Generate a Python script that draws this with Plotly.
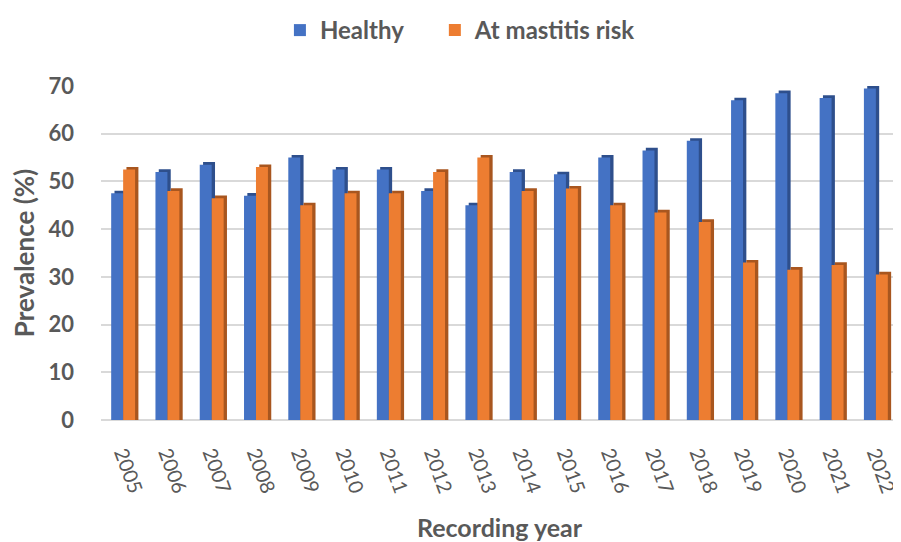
import plotly.graph_objects as go

years = ["2005", "2006", "2007", "2008", "2009", "2010", "2011", "2012", "2013",
         "2014", "2015", "2016", "2017", "2018", "2019", "2020", "2021", "2022"]
healthy = [47.5, 52.0, 53.5, 47.0, 55.0, 52.5, 52.5, 48.0, 45.0,
           52.0, 51.5, 55.0, 56.5, 58.5, 67.0, 68.5, 67.5, 69.5]
at_risk = [52.5, 48.0, 46.5, 53.0, 45.0, 47.5, 47.5, 52.0, 55.0,
           48.0, 48.5, 45.0, 43.5, 41.5, 33.0, 31.5, 32.5, 30.5]

series_names = ["Healthy", "At mastitis risk"]
front_colors = ["#4472C4", "#ED7D31"]
side_colors = ["#2E4F8C", "#A8561F"]
legend_ids = ["legend", "legend2"]

BAR_W = 0.27
offsets = [-0.27, 0.0]
DEPTH_X = 0.075
DEPTH_Y = 0.55

fig = go.Figure()
for name, vals, fc, sc, off, lg in zip(series_names, [healthy, at_risk], front_colors,
                                       side_colors, offsets, legend_ids):
    # side/top face (pseudo 3D)
    fig.add_trace(go.Bar(
        x=years, y=[v + DEPTH_Y for v in vals], base=0,
        offset=off + DEPTH_X, width=BAR_W,
        marker=dict(color=sc, line=dict(width=0)),
        showlegend=False, hoverinfo="skip"))
    # front face
    fig.add_trace(go.Bar(
        x=years, y=vals, name=name, legend=lg,
        offset=off, width=BAR_W,
        marker=dict(color=fc, line=dict(width=0))))

font_fam = "Lato, 'Open Sans', sans-serif"
gray = "#595959"
legend_style = dict(orientation="h", xref="container", xanchor="left",
                    y=1.0, yref="container", yanchor="top",
                    font=dict(size=24, color=gray, weight="bold"),
                    itemwidth=30, bgcolor="rgba(0,0,0,0)")

# the page body has an 8px default margin, so the figure is sized to fit inside the window
fig.update_layout(
    width=893, height=534,
    barmode="overlay",
    plot_bgcolor="white", paper_bgcolor="white",
    margin=dict(l=93, r=3, t=78, b=122, autoexpand=False),
    font=dict(family=font_fam, color=gray),
    legend=dict(x=0.3045, **legend_style),
    legend2=dict(x=0.4780, **legend_style),
    xaxis=dict(type="category", tickangle=70, automargin=False,
               tickfont=dict(size=20, color=gray),
               showgrid=False, showline=False, ticks="", ticklabelstandoff=17,
               title=dict(text="Recording year", font=dict(size=25, color=gray, weight="bold"),
                          standoff=23),
               range=[-0.5, 17.5]),
    yaxis=dict(range=[0, 70], dtick=10, automargin=False,
               tickfont=dict(size=22, color=gray, weight="bold"),
               showgrid=True, gridcolor="#D9D9D9", gridwidth=1.5,
               zeroline=True, zerolinecolor="#D9D9D9", zerolinewidth=1.5,
               showline=False, ticks="", ticklabelstandoff=26,
               title=dict(text="Prevalence (%)", font=dict(size=26, color=gray, weight="bold"),
                          standoff=9)),
)

fig.write_html("out.html")
